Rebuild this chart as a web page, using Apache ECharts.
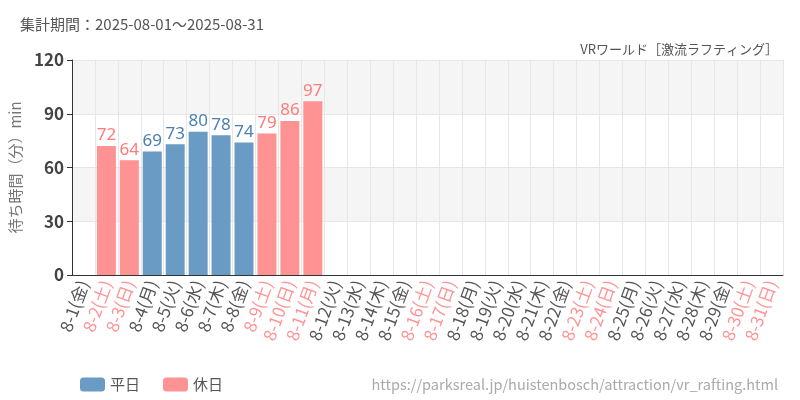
<!DOCTYPE html>
<html><head><meta charset="utf-8">
<script src="https://cdn.jsdelivr.net/npm/echarts@6/dist/echarts.min.js"></script>
<style>html,body{margin:0;padding:0;background:#fff}#c{width:800px;height:400px}</style>
</head><body><div id="c"></div>
<script>
const dates = ['8-1','8-2','8-3','8-4','8-5','8-6','8-7','8-8','8-9','8-10','8-11','8-12','8-13','8-14','8-15','8-16','8-17','8-18','8-19','8-20','8-21','8-22','8-23','8-24','8-25','8-26','8-27','8-28','8-29','8-30','8-31'];
const weekdays = ['金','土','日','月','火','水','木','金','土','日','月','火','水','木','金','土','日','月','火','水','木','金','土','日','月','火','水','木','金','土','日'];
const holidayFlags = [0,1,1,0,0,0,0,0,1,1,1,0,0,0,0,1,1,0,0,0,0,0,1,1,0,0,0,0,0,1,1];
const weekdayValues = [null,null,null,69,73,80,78,74,null,null,null,null,null,null,null,null,null,null,null,null,null,null,null,null,null,null,null,null,null,null,null];
const holidayValues = [null,72,64,null,null,null,null,null,79,86,97,null,null,null,null,null,null,null,null,null,null,null,null,null,null,null,null,null,null,null,null];
const yTicks = [0,30,60,90,120];

const BLUE = '#6a9bc4', PINK = '#ff9393';
const categories = dates.map((d,i)=>d+'('+weekdays[i]+')');
const chart = echarts.init(document.getElementById('c'));
const labelFont = 'Noto Sans';
chart.setOption({
  animation:false,
  title:[
    {text:'集計期間：2025-08-01～2025-08-31',left:15,top:12,textStyle:{fontSize:15,fontWeight:'normal',color:'#555',fontFamily:'Noto Sans CJK JP'}},
    {text:'VRワールド［激流ラフティング］',right:17,top:38,textStyle:{fontSize:13,fontWeight:'normal',color:'#555',fontFamily:'Noto Sans CJK JP'}},
    {text:'https://parksreal.jp/huistenbosch/attraction/vr_rafting.html',right:17,top:372,textStyle:{fontSize:14.5,fontWeight:'normal',color:'#aaa',fontFamily:'Noto Sans CJK JP'}}
  ],
  legend:{left:75,top:372,itemWidth:25,itemHeight:14,itemGap:23,textStyle:{fontSize:15,color:'#555',fontFamily:'Noto Sans CJK JP'},data:['平日','休日']},
  grid:{left:71,right:17,top:60,bottom:125},
  xAxis:{type:'category',data:categories,
    axisLine:{lineStyle:{color:'#333'}},
    axisTick:{alignWithLabel:true,lineStyle:{color:'#333'}},
    splitLine:{show:true,lineStyle:{color:'#e6e6e6'}},
    axisLabel:{interval:0,rotate:70,fontSize:17,margin:6,fontFamily:'Noto Sans CJK JP',
      color:(v,i)=>holidayFlags[i]?PINK:'#555'}
  },
  yAxis:{type:'value',min:yTicks[0],max:yTicks[yTicks.length-1],interval:30,
    name:'待ち時間（分）min',nameLocation:'middle',nameGap:44,nameRotate:90,
    nameTextStyle:{fontSize:15,color:'#777',fontFamily:'Noto Sans CJK JP'},
    axisLine:{show:true,lineStyle:{color:'#333'}},
    axisTick:{show:true,lineStyle:{color:'#333'}},
    axisLabel:{fontSize:17,color:'#444',fontWeight:'bold',fontFamily:'Noto Sans CJK JP'},
    splitLine:{lineStyle:{color:'#e6e6e6'}},
    splitArea:{show:true,areaStyle:{color:['#ffffff','#f5f5f5']}}
  },
  series:[
    {name:'平日',type:'bar',data:weekdayValues,barWidth:19,barGap:'-100%',itemStyle:{color:BLUE},
      label:{show:true,position:'top',distance:2,color:'#4a80b4',fontSize:17,fontFamily:labelFont}},
    {name:'休日',type:'bar',data:holidayValues,barWidth:19,itemStyle:{color:PINK},
      label:{show:true,position:'top',distance:2,color:'#ff7b7b',fontSize:17,fontFamily:labelFont}}
  ]
});
</script></body></html>
